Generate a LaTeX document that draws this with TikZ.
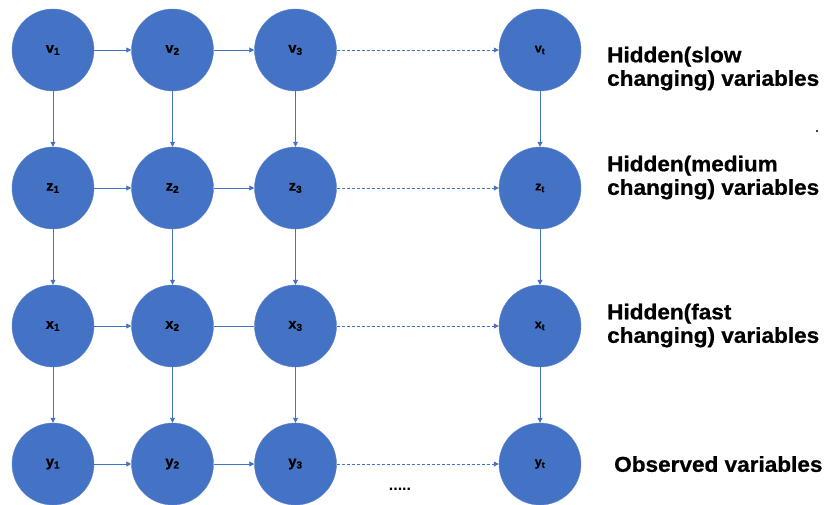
\documentclass[tikz,border=0pt]{standalone}
\usepackage{fontspec}
\setmainfont{Liberation Sans}
\newfontfamily\lblfont[FakeStretch=1.05,FakeBold=0.8]{Liberation Sans}
\newfontfamily\varfont[FakeBold=0.6]{Liberation Sans}
\usetikzlibrary{arrows.meta}
\definecolor{nodeblue}{HTML}{4472C4}
\definecolor{edgeblue}{HTML}{4472C4}
\tikzset{
  var/.style={circle, fill=nodeblue, draw=nodeblue!85!white, line width=0.4pt, minimum size=82pt, inner sep=0pt, font=\varfont\bfseries\fontsize{14.5}{16}\selectfont, text=black},
  vart/.style={var, font=\varfont\bfseries\fontsize{12.5}{14}\selectfont},
  link/.style={draw=edgeblue, line width=0.8pt, -{Triangle[length=5pt,width=5pt]}},
  plainlink/.style={draw=edgeblue, line width=0.8pt},
  dlink/.style={link, dash pattern=on 3pt off 2pt},
  rowlabel/.style={anchor=north west, inner sep=0pt, align=left, font=\lblfont\bfseries\fontsize{21.5}{23.5}\selectfont}
}
\begin{document}
\begin{tikzpicture}[x=1pt, y=-1pt]
\useasboundingbox (0,0) rectangle (827,505);
% nodes
\node[var] (v1) at (53,50) {v\textsubscript{1}};
\node[var] (v2) at (172.5,50) {v\textsubscript{2}};
\node[var] (v3) at (295.5,50) {v\textsubscript{3}};
\node[vart] (vt) at (540,50) {v\textsubscript{t}};
\node[var] (z1) at (53,188) {z\textsubscript{1}};
\node[var] (z2) at (172.5,188) {z\textsubscript{2}};
\node[var] (z3) at (295.5,188) {z\textsubscript{3}};
\node[vart] (zt) at (540,188) {z\textsubscript{t}};
\node[var] (x1) at (53,326) {x\textsubscript{1}};
\node[var] (x2) at (172.5,326) {x\textsubscript{2}};
\node[var] (x3) at (295.5,326) {x\textsubscript{3}};
\node[vart] (xt) at (540,326) {x\textsubscript{t}};
\node[var] (y1) at (53,464) {y\textsubscript{1}};
\node[var] (y2) at (172.5,464) {y\textsubscript{2}};
\node[var] (y3) at (295.5,464) {y\textsubscript{3}};
\node[vart] (yt) at (540,464) {y\textsubscript{t}};
% horizontal
\draw[link] (v1) -- (v2);
\draw[link] (v2) -- (v3);
\draw[dlink] (v3) -- (vt);
\draw[link] (z1) -- (z2);
\draw[link] (z2) -- (z3);
\draw[dlink] (z3) -- (zt);
\draw[link] (x1) -- (x2);
\draw[plainlink] (x2) -- (x3);
\draw[dlink] (x3) -- (xt);
\draw[link] (y1) -- (y2);
\draw[link] (y2) -- (y3);
\draw[dlink] (y3) -- (yt);
% vertical
\foreach \c in {1,2,3,t}{
  \draw[link] (v\c) -- (z\c);
  \draw[link] (z\c) -- (x\c);
  \draw[link] (x\c) -- (y\c);
}
% labels
\node[rowlabel] (lslow) at (607,46.5) {Hidden(slow\\changing) variables};
\node[rowlabel] (lmed) at (607,155.5) {Hidden(medium\\changing) variables};
\node[rowlabel] (lfast) at (607,303.5) {Hidden(fast\\changing) variables};
\node[rowlabel] (lobs) at (614,456) {Observed variables};
\fill[black] (817,131) circle (1.1pt);
\node[font=\fontsize{16}{18}\selectfont\bfseries, inner sep=0pt, anchor=base] (dots) at (400,490) {.....};
\end{tikzpicture}
\end{document}
